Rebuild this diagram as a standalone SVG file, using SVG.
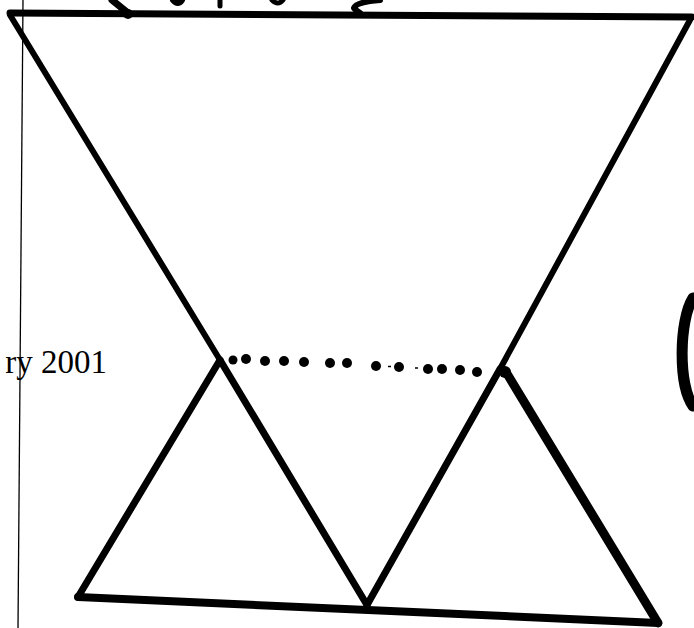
<svg xmlns="http://www.w3.org/2000/svg" width="694" height="628" viewBox="0 0 694 628">
<style>
.ln{stroke:#000;stroke-linecap:round;stroke-linejoin:round;fill:none}
.dot{fill:#000}
</style>
<rect width="694" height="628" fill="#fff"/>
<line x1="23" y1="0" x2="18" y2="628" stroke="#000" stroke-width="1.3"/>
<g id="marks">
<path class="ln" d="M112 0 L128 13" stroke-width="7"/>
<circle class="dot" cx="128" cy="14" r="5"/>
<path class="ln" d="M173 0 Q178 6 182 0" stroke-width="6"/>
<path class="ln" d="M220 0 L220 6" stroke-width="5"/>
<path class="ln" d="M272 0 Q278 6 283 0" stroke-width="5"/>
<path class="ln" d="M380 0 Q356 2 354 8 Q356 11 360 13" stroke-width="6"/>
<path class="ln" d="M693 298 C679 320 678 385 693 406" stroke-width="11"/>
</g>
<g id="funnel">
<path class="ln" d="M10 13 L692 17" stroke-width="7"/>
<path class="ln" d="M10 15 L220 360" stroke-width="6"/>
<path class="ln" d="M690 20 L500 369" stroke-width="6"/>
</g>
<g id="left-triangle">
<path class="ln" d="M220 360 L78 597" stroke-width="7"/>
<path class="ln" d="M220 360 L367 605" stroke-width="7"/>
</g>
<g id="right-triangle">
<path class="ln" d="M500 369 L367 605" stroke-width="7"/>
<path class="ln" d="M506 372 L658 623" stroke-width="9"/>
<circle class="dot" cx="505" cy="372" r="6"/>
</g>
<path id="base" class="ln" d="M78 597 L658 623" stroke-width="8"/>
<g id="dotted">
<circle class="dot" cx="233" cy="360" r="4.5"/>
<circle class="dot" cx="246" cy="359" r="5"/>
<circle class="dot" cx="265" cy="361" r="5"/>
<circle class="dot" cx="284" cy="361" r="5"/>
<circle class="dot" cx="304" cy="362" r="5"/>
<circle class="dot" cx="330" cy="363" r="5"/>
<circle class="dot" cx="347" cy="363" r="5"/>
<circle class="dot" cx="376" cy="366" r="5"/>
<circle class="dot" cx="399" cy="367" r="5"/>
<circle class="dot" cx="428" cy="369" r="5"/>
<circle class="dot" cx="442" cy="369" r="5"/>
<circle class="dot" cx="460" cy="370" r="5"/>
<circle class="dot" cx="477" cy="372" r="5"/>
<line x1="388" y1="366.5" x2="391" y2="366.5" stroke="#000" stroke-width="1.5"/>
<line x1="415" y1="368" x2="418" y2="368" stroke="#000" stroke-width="1.5"/>
</g>
<text x="107" y="373" text-anchor="end" font-family="'Liberation Serif', serif" font-size="33">ry 2001</text>
</svg>
